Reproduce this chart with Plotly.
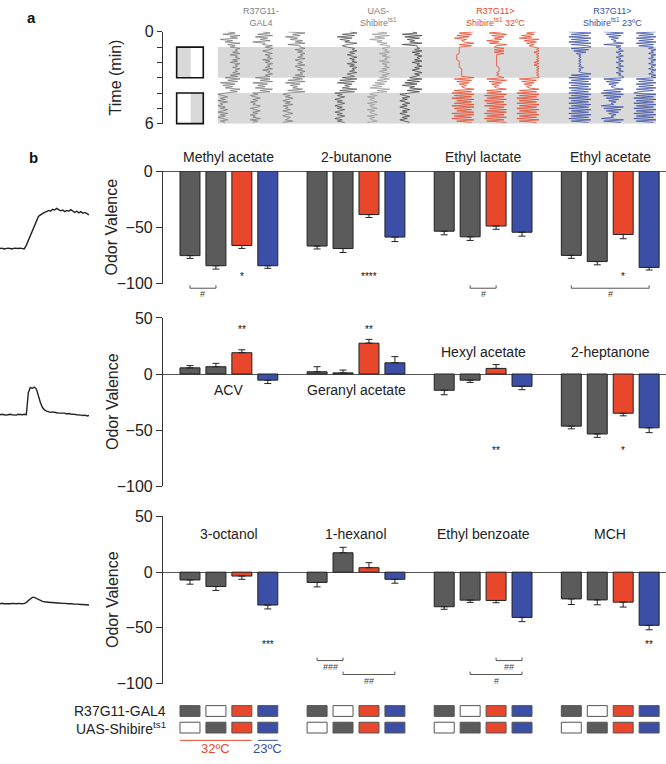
import numpy as np
import plotly.graph_objects as go

W, H = 666, 764
FONT = "Arial, 'Liberation Sans', Helvetica, sans-serif"
GRAY, RED, BLUE = "#5b5b5b", "#e8472b", "#3b4fa6"
BAR_COLORS = [GRAY, GRAY, RED, BLUE]

# ---------------- data: panel b ----------------
ODORS_1 = ["Methyl acetate", "2-butanone", "Ethyl lactate", "Ethyl acetate"]
VALUES_1 = [[-75, -84, -66, -84], [-66.5, -68.7, -38.5, -58.5],
            [-53.3, -58.3, -48.7, -54.2], [-74.8, -80.3, -56.2, -85.5]]
ERRORS_1 = [[2.5, 3, 2.6, 2.3], [2.6, 3.5, 2.6, 4], [3.2, 3.2, 2.9, 3.5], [2.6, 2.9, 3.8, 2.3]]
LABEL_Y_1 = [12.4, 12.4, 12.4, 12.4]
STARS_1 = [(0, 2, "*", -93.5), (1, 2, "****", -93.5), (3, 2, "*", -93.5)]
BRACKETS_1 = [(0, 0, 1, -104, "#"), (2, 1, 2, -104, "#"), (3, 0, 3, -104, "#")]

ODORS_2 = ["ACV", "Geranyl acetate", "Hexyl acetate", "2-heptanone"]
VALUES_2 = [[5.5, 6.5, 19, -5.5], [2, 1, 27.5, 10], [-14.5, -5.5, 5, -11], [-46.5, -53.5, -35, -48]]
ERRORS_2 = [[2, 3, 2.6, 3], [4.5, 2.5, 3.4, 5.5], [4, 2, 3.4, 3], [2.4, 3, 2.3, 4.3]]
LABEL_Y_2 = [-14, -14, 20, 20]
STARS_2 = [(0, 2, "**", 40), (1, 2, "**", 40), (2, 2, "**", -68), (3, 2, "*", -68)]
BRACKETS_2 = []

ODORS_3 = ["3-octanol", "1-hexanol", "Ethyl benzoate", "MCH"]
VALUES_3 = [[-7, -12.9, -3.5, -29.5], [-9.2, 17.4, 4, -6.4],
            [-31, -25.1, -25.4, -40.6], [-24, -24.9, -26.9, -47.7]]
ERRORS_3 = [[3.8, 3.5, 2.9, 3.5], [4, 4.9, 4.5, 3.5], [2.3, 2, 2, 3.8], [5, 4.4, 4.4, 4]]
LABEL_Y_3 = [34, 34, 34, 34]
STARS_3 = [(0, 3, "***", -64.5), (3, 3, "**", -64.5)]
BRACKETS_3 = [(1, 0, 1, -79.3, "###"), (1, 1, 3, -91.8, "##"),
              (2, 2, 3, -79.3, "##"), (2, 1, 3, -91.8, "#")]

GENOTYPE_ROWS = ["R37G11-GAL4", "UAS-Shibire<sup>ts1</sup>"]
GENOTYPE_FILL = [["#5b5b5b", "white", RED, BLUE], ["white", "#5b5b5b", RED, BLUE]]
TEMPS = ["32ºC", "23ºC"]

# ---------------- data: PID traces (left) ----------------
PID_TIME = list(range(0, 90, 2))
PID_1 = [0, 0.01, -0.01, 0, 0.01, 0, -0.01, 0.01, 0, 0, 0.01, 0, -0.01,
         0.08, 0.2, 0.33, 0.47, 0.6, 0.72, 0.8, 0.84, 0.86, 0.9,
         0.92, 0.95, 0.93, 0.98, 0.96, 1.0, 0.97, 0.94, 0.96, 0.92,
         0.95, 0.93, 0.97, 0.94, 0.9, 0.93, 0.89, 0.92, 0.88, 0.9, 0.86, 0.84]
PID_2 = [0, 0.01, 0, -0.01, 0, 0.01, 0, 0, -0.01, 0.01, 0, 0, 0.01, 0,
         0.55, 0.68, 0.66, 0.69, 0.64, 0.45, 0.3, 0.18, 0.12, 0.09,
         0.08, 0.06, 0.07, 0.05, 0.05, 0.04, 0.04, 0.03, 0.04, 0.02,
         0.03, 0.02, 0.02, 0.01, 0, 0, -0.01, -0.02, -0.01, -0.03, -0.02]
PID_3 = [0, 0.01, 0, 0, -0.01, 0, 0.01, 0, 0, 0.01, 0, 0, 0.01,
         0.03, 0.08, 0.13, 0.16, 0.16, 0.13, 0.1, 0.08, 0.06, 0.05,
         0.04, 0.04, 0.03, 0.03, 0.02, 0.02, 0.02, 0.01, 0.01, 0.01,
         0, 0, 0, -0.01, -0.01, -0.01, -0.02, -0.02, -0.02, -0.02, -0.02, -0.03]

# ---------------- data: panel a (fly position traces, digits 0-9 = side of chamber) ----------------
SEGMENT_WINDOWS = [(0, 1), (1, 3), (3, 4), (4, 6)]
GROUP_TITLES = ["R37G11-<br>GAL4", "UAS-<br>Shibire<sup>ts1</sup>",
                "R37G11><br>Shibire<sup>ts1</sup> 32ºC", "R37G11><br>Shibire<sup>ts1</sup> 23ºC"]
GROUP_TITLE_COLORS = ["#808080", "#808080", RED, BLUE]
TRACE_COLORS = [["#7a7a7a", "#7a7a7a", "#7a7a7a"], ["#555555", "#9a9a9a", "#444444"],
                [RED, RED, RED], [BLUE, BLUE, BLUE]]
TRACES = [
    [["472958163947", "597869587968597869786958", "394817263958", "302413041203142041302413"],
     ["583927481659", "698579687958697869587968", "284917362948", "130241302143024130214031"],
     ["294716385927", "795869786957869578697859", "482917364829", "203142031402130241032140"]],
    [["693817264953", "587968579687958697869578", "392817463928", "031420314203142031420314"],
     ["482937164859", "968795869785968796857968", "594837261948", "214031240312403124031240"],
     ["571928364917", "786958697869587968579686", "493827164938", "302413024130241302413024"]],
    [["938271645938", "333333222223333334444444", "918273645918", "091809281909182909180928"],
     ["729384716295", "484848555555555566665656", "819273645917", "190819081908291908190819"],
     ["847261938475", "798979898989797989898989", "918273645918", "091809180918091809180918"]],
    [["091809180918", "918273545454545464545918", "091809180918", "091809180918091809180918"],
     ["192837465918", "687968796879687968796879", "918273645918", "091827364509182736450918"],
     ["918291829182", "869786978697869786978697", "918291829182", "091809180918091809180918"]],
]


def px(p):
    return p / W


def py(p):
    return 1 - p / H


GROUP_STEP = 4.9
BAR_W = 0.77
XRANGE = [-1.04, 18.35]


def bx(g, j):
    return g * GROUP_STEP + j


fig = go.Figure()
layout = dict(width=W, height=H, margin=dict(l=0, r=0, t=0, b=0),
              paper_bgcolor="white", plot_bgcolor="rgba(0,0,0,0)",
              showlegend=False, font=dict(family=FONT, color="#222"))
shapes, annotations = [], []

panels = [
    dict(n="", odors=ODORS_1, vals=VALUES_1, errs=ERRORS_1, rng=[-100, 0], ticks=[0, -50, -100],
         top=167, bottom=282, label_y=LABEL_Y_1, stars=STARS_1, brackets=BRACKETS_1),
    dict(n="2", odors=ODORS_2, vals=VALUES_2, errs=ERRORS_2, rng=[-100, 50], ticks=[50, 0, -50, -100],
         top=317, bottom=489, label_y=LABEL_Y_2, stars=STARS_2, brackets=BRACKETS_2),
    dict(n="3", odors=ODORS_3, vals=VALUES_3, errs=ERRORS_3, rng=[-100, 50], ticks=[50, 0, -50, -100],
         top=520, bottom=691, label_y=LABEL_Y_3, stars=STARS_3, brackets=BRACKETS_3),
]

for p in panels:
    n = p["n"]
    lo, hi = p["rng"]

    def dom(v, lo=lo, hi=hi):
        return (v - lo) / (hi - lo)

    xs, ys, cols, ep, em = [], [], [], [], []
    for g, (vals, errs) in enumerate(zip(p["vals"], p["errs"])):
        for j, (v, e) in enumerate(zip(vals, errs)):
            xs.append(bx(g, j))
            ys.append(v)
            cols.append(BAR_COLORS[j])
            ep.append(e if v >= 0 else 0)
            em.append(e if v < 0 else 0)
    fig.add_trace(go.Bar(x=xs, y=ys, width=BAR_W,
                         marker=dict(color=cols, line=dict(color="#222", width=1)),
                         error_y=dict(type="data", symmetric=False, array=ep, arrayminus=em,
                                      color="#222", thickness=1, width=3.5),
                         xaxis="x" + n, yaxis="y" + n, hoverinfo="skip"))
    layout["xaxis" + n] = dict(domain=[px(163), 1], range=XRANGE, visible=False, anchor="y" + n)
    layout["yaxis" + n] = dict(domain=[py(p["bottom"]), py(p["top"])], range=p["rng"],
                               tickvals=p["ticks"], ticks="outside", ticklen=6, tickwidth=1.2,
                               tickcolor="#333", showline=True, linecolor="#333", linewidth=1.2,
                               zeroline=True, zerolinecolor="#555", zerolinewidth=1.2,
                               showgrid=False, tickfont=dict(size=16, color="#222"),
                               anchor="x" + n)
    for g, (name, ly) in enumerate(zip(p["odors"], p["label_y"])):
        annotations.append(dict(x=bx(g, 1.5), y=dom(ly), xref="x" + n, yref="y" + n + " domain",
                                text=name, showarrow=False, font=dict(size=14, color="#222"),
                                xanchor="center", yanchor="middle"))
    for g, j, txt, v in p["stars"]:
        annotations.append(dict(x=bx(g, j), y=dom(v), xref="x" + n, yref="y" + n + " domain",
                                text=txt, showarrow=False, font=dict(size=10, color="#111"),
                                xanchor="center", yanchor="middle"))
    for g, j0, j1, lvl, txt in p["brackets"]:
        x0, x1 = bx(g, j0), bx(g, j1)
        pts = [(x0, lvl + 2.6), (x0, lvl), (x1, lvl), (x1, lvl + 2.6)]
        path = "M " + " L ".join(f"{a},{dom(b)}" for a, b in pts)
        shapes.append(dict(type="path", path=path, xref="x" + n, yref="y" + n + " domain",
                           line=dict(color="#555", width=1)))
        annotations.append(dict(x=(x0 + x1) / 2, y=dom(lvl - 5.5), xref="x" + n,
                                yref="y" + n + " domain", text=txt, showarrow=False,
                                font=dict(size=9, color="#444"), xanchor="center", yanchor="middle"))
    annotations.append(dict(x=px(112), y=py((p["top"] + p["bottom"]) / 2), xref="paper", yref="paper",
                            text="Odor Valence", textangle=-90, showarrow=False,
                            font=dict(size=16, color="#222"), xanchor="center", yanchor="middle"))

# genotype table
row_px = [719, 736]
for r, (label, fills) in enumerate(zip(GENOTYPE_ROWS, GENOTYPE_FILL)):
    annotations.append(dict(x=px(168), y=py(row_px[r]), xref="paper", yref="paper", text=label,
                            showarrow=False, font=dict(size=14, color="#222"),
                            xanchor="right", yanchor="middle"))
    for g in range(4):
        for j, c in enumerate(fills):
            shapes.append(dict(type="rect", xref="x3", yref="paper",
                               x0=bx(g, j) - BAR_W / 2, x1=bx(g, j) + BAR_W / 2,
                               y0=py(row_px[r] + 5.5), y1=py(row_px[r] - 5.5),
                               fillcolor=c, line=dict(color="#555", width=1)))
temp_spans = [(0, 2, RED), (3, 3, BLUE)]
for (j0, j1, c), t in zip(temp_spans, TEMPS):
    x0, x1 = bx(0, j0) - BAR_W / 2, bx(0, j1) + BAR_W / 2
    shapes.append(dict(type="line", xref="x3", yref="paper", x0=x0, x1=x1,
                       y0=py(749), y1=py(749), line=dict(color=c, width=1)))
    annotations.append(dict(x=(x0 + x1) / 2, y=py(757), xref="x3", yref="paper", text=t,
                            showarrow=False, font=dict(size=13, color=c),
                            xanchor="center", yanchor="middle"))

# ---------------- panel a ----------------
LANE_STEP = 3.6
LANE_W = 0.68
layout["xaxis4"] = dict(domain=[px(163), 1], range=[-2.03, 13.45], visible=False, anchor="y4")
layout["yaxis4"] = dict(domain=[py(118.3), py(24.3)], range=[6, 0], tickvals=[0, 6],
                        ticks="outside", ticklen=5, tickwidth=1.2, tickcolor="#333",
                        minor=dict(ticks="outside", ticklen=5, tickwidth=1.2, tickcolor="#333",
                                   dtick=1, showgrid=False),
                        showline=True, linecolor="#333",
                        linewidth=1.2, zeroline=False, showgrid=False,
                        tickfont=dict(size=16, color="#222"), anchor="x4")
for t0, t1 in [(1, 3), (4, 6)]:
    shapes.append(dict(type="rect", xref="x4", yref="y4", x0=-0.34, x1=13.14, y0=t0, y1=t1,
                       fillcolor="#d9d9d9", line=dict(width=0), layer="below"))
for (t0, t1), (g0, g1) in zip([(1, 3), (4, 6)], [(-1.61, -1.18), (-1.18, -0.79)]):
    shapes.append(dict(type="rect", xref="x4", yref="y4 domain", x0=g0, x1=g1,
                       y0=1 - t1 / 6, y1=1 - t0 / 6, fillcolor="#d9d9d9", line=dict(width=0)))
    shapes.append(dict(type="rect", xref="x4", yref="y4 domain", x0=-1.61, x1=-0.79,
                       y0=1 - t1 / 6, y1=1 - t0 / 6, fillcolor="rgba(0,0,0,0)",
                       line=dict(color="#111", width=1.6)))
for g, group in enumerate(TRACES):
    for k, segs in enumerate(group):
        center = g * LANE_STEP + k
        tt, xx = [], []
        for (a, b), s in zip(SEGMENT_WINDOWS, segs):
            d = [int(ch) for ch in s]
            tt += list(np.linspace(a, b, len(d), endpoint=False))
            xx += [center + (v / 9 - 0.5) * LANE_W for v in d]
        fig.add_trace(go.Scatter(x=xx, y=tt, mode="lines", xaxis="x4", yaxis="y4",
                                 line=dict(color=TRACE_COLORS[g][k], width=0.8), hoverinfo="skip"))
    annotations.append(dict(x=g * LANE_STEP + 1, y=py(9), xref="x4", yref="paper",
                            text=GROUP_TITLES[g], showarrow=False,
                            font=dict(size=9, color=GROUP_TITLE_COLORS[g]),
                            xanchor="center", yanchor="middle"))
annotations.append(dict(x=px(115), y=py(71), xref="paper", yref="paper", text="Time (min)",
                        textangle=-90, showarrow=False, font=dict(size=16, color="#222"),
                        xanchor="center", yanchor="middle"))

# ---------------- PID traces ----------------
PID_UNIT = 41
for idx, (vals, base) in enumerate(zip([PID_1, PID_2, PID_3], [246, 416, 609.3])):
    n = str(5 + idx)
    fig.add_trace(go.Scatter(x=PID_TIME, y=vals, mode="lines", xaxis="x" + n, yaxis="y" + n,
                             line=dict(color="#222", width=1.4), hoverinfo="skip"))
    layout["xaxis" + n] = dict(domain=[0, px(89)], range=[0, 88], visible=False, anchor="y" + n)
    layout["yaxis" + n] = dict(domain=[py(base + 0.2 * PID_UNIT), py(base - 1.2 * PID_UNIT)],
                               range=[-0.2, 1.2], visible=False, anchor="x" + n)

annotations.append(dict(x=px(31), y=py(10), xref="paper", yref="paper", text="<b>a</b>",
                        showarrow=False, font=dict(size=15, color="#111"),
                        xanchor="center", yanchor="middle"))
annotations.append(dict(x=px(33), y=py(153), xref="paper", yref="paper", text="<b>b</b>",
                        showarrow=False, font=dict(size=15, color="#111"),
                        xanchor="center", yanchor="middle"))

layout["shapes"] = shapes
layout["annotations"] = annotations
fig.update_layout(**layout)
fig.write_html("out.html", config={"displayModeBar": False},
               post_script="document.body.style.margin='0px';document.body.style.overflow='hidden';")
